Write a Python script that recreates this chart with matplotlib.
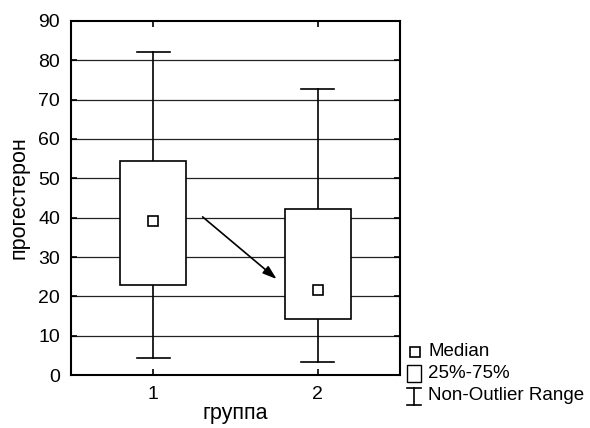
import matplotlib
matplotlib.use("Agg")
import matplotlib.pyplot as plt
from matplotlib.patches import Rectangle

plt.rcParams['font.family'] = ['Liberation Sans', 'DejaVu Sans']

groups = [1, 2]
q1 = [23.0, 14.2]
q3 = [54.3, 42.1]
medians = [39.1, 21.6]
whisk_lo = [4.2, 3.3]
whisk_hi = [82.0, 72.8]
yticks = [0, 10, 20, 30, 40, 50, 60, 70, 80, 90]
arrow_start = (1.30, 40.2)
arrow_end = (1.75, 24.4)

fig = plt.figure(figsize=(5.9, 4.28), dpi=100)
ax = fig.add_axes([71/590, 1-375/428, 329/590, 354/428])
ax.set_xlim(0.5, 2.5)
ax.set_ylim(0, 90)

for y in yticks[1:-1]:
    ax.axhline(y, color='#222222', lw=0.9, zorder=1)

bw = 0.4
cw = 0.2
for g, a, b, m, lo, hi in zip(groups, q1, q3, medians, whisk_lo, whisk_hi):
    ax.plot([g, g], [lo, a], color='black', lw=1.2, zorder=2)
    ax.plot([g, g], [b, hi], color='black', lw=1.2, zorder=2)
    ax.plot([g - cw/2, g + cw/2], [lo, lo], color='black', lw=1.2, zorder=2)
    ax.plot([g - cw/2, g + cw/2], [hi, hi], color='black', lw=1.2, zorder=2)
    ax.add_patch(Rectangle((g - bw/2, a), bw, b - a, facecolor='white',
                           edgecolor='black', lw=1.2, zorder=3))
    ax.plot([g], [m], marker='s', markersize=7, markerfacecolor='white',
            markeredgecolor='black', markeredgewidth=1.2, zorder=4)

ax.annotate('', xy=arrow_end, xytext=arrow_start,
            arrowprops=dict(arrowstyle='-|>,head_length=0.6,head_width=0.2', color='black', lw=1.2,
                            mutation_scale=14, shrinkA=0, shrinkB=0), zorder=5)

ax.set_xticks(groups)
ax.set_xticklabels([str(g) for g in groups])
ax.set_yticks(yticks)
ax.tick_params(axis='both', direction='in', length=4, width=1.2, labelsize=14,
               top=True, right=True, pad=8)
ax.tick_params(axis='x', pad=8)
for s in ax.spines.values():
    s.set_linewidth(1.5)

ax.set_ylabel('прогестерон', fontsize=15.5, labelpad=6)
ax.set_xlabel('группа', fontsize=15.5, labelpad=0)

# legend (manual, outside axes)
fs = 13.5
fig.text(428/590, 1-352/428, 'Median', fontsize=fs, va='center')
fig.text(428/590, 1-374/428, '25%-75%', fontsize=fs, va='center')
fig.text(428/590, 1-396/428, 'Non-Outlier Range', fontsize=fs, va='center')
fig.add_artist(Rectangle((410/590, 1-357/428), 10/590, 10/428, transform=fig.transFigure,
                         facecolor='white', edgecolor='black', lw=1.2))
fig.add_artist(Rectangle((407/590, 1-382/428), 14/590, 17/428, transform=fig.transFigure,
                         facecolor='white', edgecolor='black', lw=1.0))
fig.add_artist(plt.Line2D([414/590, 414/590], [1-405/428, 1-388/428], transform=fig.transFigure, color='black', lw=1.2))
fig.add_artist(plt.Line2D([407/590, 421/590], [1-388/428, 1-388/428], transform=fig.transFigure, color='black', lw=1.2))
fig.add_artist(plt.Line2D([407/590, 421/590], [1-405/428, 1-405/428], transform=fig.transFigure, color='black', lw=1.2))

fig.savefig('out.png', dpi=100)
